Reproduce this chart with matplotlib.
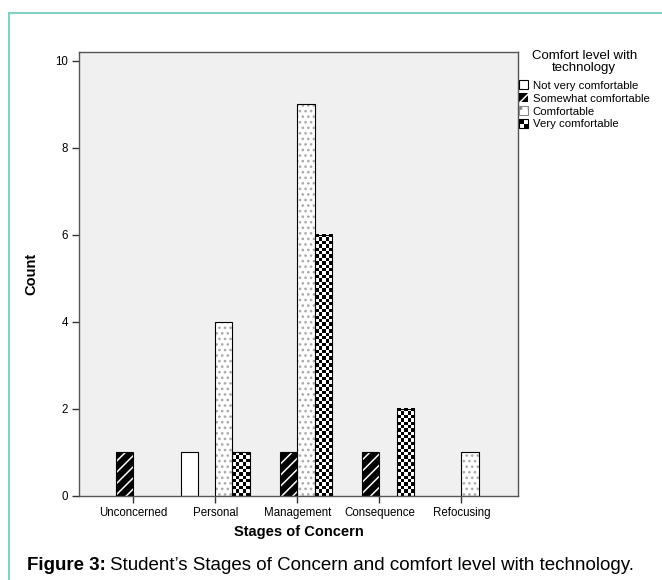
import matplotlib
matplotlib.use("Agg")
import matplotlib.pyplot as plt
import numpy as np
from matplotlib.patches import Rectangle, Patch
from matplotlib.legend_handler import HandlerPatch
from matplotlib.lines import Line2D

plt.rcParams['font.family'] = ['Liberation Sans', 'DejaVu Sans']
plt.rcParams['hatch.linewidth'] = 1.1

stages = ['Unconcerned', 'Personal', 'Management', 'Consequence', 'Refocusing']
levels = ['Not very comfortable', 'Somewhat comfortable', 'Comfortable', 'Very comfortable']
not_very = [0, 1, 0, 0, 0]
somewhat = [1, 0, 1, 1, 0]
comfortable = [0, 4, 9, 0, 1]
very = [0, 1, 6, 2, 0]
series = [not_very, somewhat, comfortable, very]

teal = '#7fd1c6'
bg = '#f0f0f0'


class CheckerHandler(HandlerPatch):
    # small 2x2 checker square for legend
    def create_artists(self, legend, orig_handle, xdescent, ydescent,
                       width, height, fontsize, trans):
        s = height
        x0, y0 = -xdescent, -ydescent
        arts = [Rectangle((x0, y0), s, s, facecolor='black', lw=0, transform=trans),
                Rectangle((x0 + s / 2, y0 + s / 2), s / 2, s / 2, facecolor='white', lw=0, transform=trans),
                Rectangle((x0, y0), s / 2, s / 2, facecolor='white', lw=0, transform=trans),
                Rectangle((x0, y0), s, s, fill=False, edgecolor='black', lw=0.8, transform=trans)]
        return arts


class SquareHandler(HandlerPatch):
    def create_artists(self, legend, orig_handle, xdescent, ydescent,
                       width, height, fontsize, trans):
        s = height
        p = Rectangle((-xdescent, -ydescent), s, s, transform=trans)
        self.update_prop(p, orig_handle, legend)
        p.set_transform(trans)
        return [p]


fig = plt.figure(figsize=(6.62, 5.8), dpi=100)
ax = fig.add_axes([79 / 662, 1 - 496 / 580, (518 - 79) / 662, (496 - 52) / 580])
ax.set_facecolor(bg)

x = np.arange(len(stages))
w = 0.21
offsets = [-1.5 * w, -0.5 * w, 0.5 * w, 1.5 * w]

for i, vals in enumerate(series):
    xs = x + offsets[i]
    keep = [j for j, v in enumerate(vals) if v > 0]
    xs = xs[keep]
    hs = [vals[j] for j in keep]
    if i == 0:
        ax.bar(xs, hs, w, facecolor='white', edgecolor='black', lw=0.8, zorder=2)
    elif i == 1:
        ax.bar(xs, hs, w, facecolor='black', edgecolor='white', hatch='///', lw=0, zorder=2)
        ax.bar(xs, hs, w, fill=False, edgecolor='black', lw=0.8, zorder=3)
    elif i == 2:
        ax.bar(xs, hs, w, facecolor='white', edgecolor='#aaaaaa', hatch='...', lw=0, zorder=2)
        ax.bar(xs, hs, w, fill=False, edgecolor='black', lw=0.8, zorder=3)
    else:
        bars = ax.bar(xs, hs, w, facecolor='white', edgecolor='black', lw=0.8, zorder=3, fill=False)
        for b in bars:
            bx, by = b.get_x(), b.get_y()
            bw, bh = b.get_width(), b.get_height()
            nx = 5
            ny = int(round(bh * 43.5 / 3.4))
            checker = (np.add.outer(np.arange(ny), np.arange(nx)) % 2).astype(float)
            ax.imshow(checker, cmap='gray', extent=(bx, bx + bw, by, by + bh),
                      aspect='auto', interpolation='nearest', zorder=2)

ax.set_xlim(-0.66, 4.69)
ax.set_ylim(0, 10.2)
ax.set_xticks(x)
ax.set_xticklabels(stages, fontsize=8.3)
ax.set_yticks([0, 2, 4, 6, 8, 10])
ax.tick_params(axis='both', direction='out', length=5, width=1, labelsize=8.3, color='#333333', pad=3)
for sp in ax.spines.values():
    sp.set_color('#555555')
    sp.set_linewidth(1)
ax.set_xlabel('Stages of Concern', fontsize=10.5, fontweight='bold', labelpad=4)
ax.set_ylabel('Count', fontsize=10.5, fontweight='bold', labelpad=12)

handles = [Patch(facecolor='white', edgecolor='black', lw=0.8),
           Patch(facecolor='black', edgecolor='white', hatch='///', lw=0),
           Patch(facecolor='white', edgecolor='#888888', hatch='..', lw=0.8),
           Patch(facecolor='black')]
hmap = {handles[0]: SquareHandler(), handles[1]: SquareHandler(),
        handles[2]: SquareHandler(), handles[3]: CheckerHandler()}
leg = fig.legend(handles, levels, loc='upper left', bbox_to_anchor=(519 / 662, 1 - 50 / 580),
                 frameon=False, fontsize=8.2, title='Comfort level with\ntechnology',
                 title_fontsize=9.5, handlelength=0.9, handleheight=0.9, handletextpad=0.3,
                 labelspacing=0.2, borderpad=0, borderaxespad=0, handler_map=hmap,
                 alignment='center')
leg.get_title().set_multialignment('center')
leg.get_title().set_linespacing(1.05)
leg._legend_box.sep = 4

# teal frame around the figure
fig.add_artist(Line2D([9 / 662, 9 / 662], [0, 1 - 13 / 580], color=teal, lw=1.5))
fig.add_artist(Line2D([9 / 662, 1], [1 - 13 / 580, 1 - 13 / 580], color=teal, lw=1.5))

# caption: bold label followed by normal text
cy = 1 - 566 / 580
t1 = fig.text(27 / 662, cy, 'Figure 3:', fontsize=13.5, fontweight='bold', va='center', ha='left')
fig.canvas.draw()
bb = t1.get_window_extent()
fig.text((bb.x1 + 4) / 662, cy, 'Student’s Stages of Concern and comfort level with technology.',
         fontsize=13.5, va='center', ha='left')

fig.savefig('out.png', dpi=100)
